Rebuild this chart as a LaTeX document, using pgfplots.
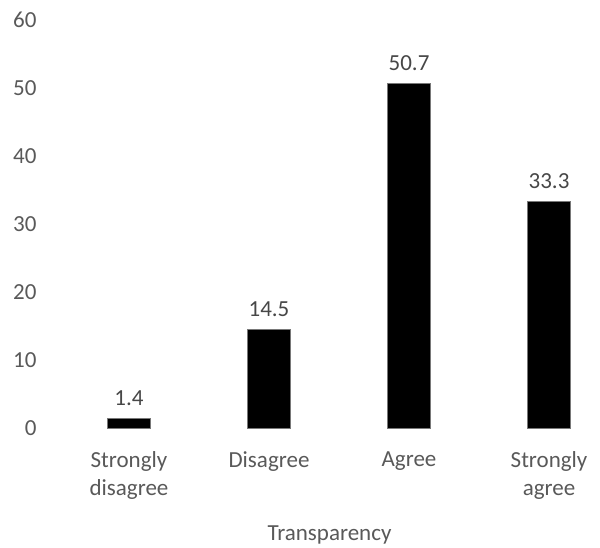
\documentclass[border=0pt]{standalone}
\usepackage{fontspec}
\setmainfont{Carlito}
\usepackage{pgfplots}
\pgfplotsset{compat=1.18}
\definecolor{txtgray}{RGB}{89,89,89}
\definecolor{edgegray}{RGB}{120,120,120}

\begin{document}
\begin{tikzpicture}
\begin{axis}[
  name=ax,
  scale only axis,
  width=541pt, height=408pt,
  ybar, bar width=43pt,
  xmin=-0.5, xmax=3.364,
  ymin=0, ymax=60,
  ytick={0,10,...,60},
  xtick={0,1,2,3},
  xticklabels={{Strongly\\disagree},Disagree,Agree,{Strongly\\agree}},
  xticklabel style={align=center, font=\fontsize{23}{28}\selectfont, text=txtgray, yshift=-20pt},
  yticklabel style={font=\fontsize{23}{28}\selectfont, text=txtgray, xshift=-19pt},
  /pgf/number format/assume math mode=true,
  major tick length=0pt,
  axis line style={draw=none},
  xlabel={Transparency},
  xlabel style={font=\fontsize{23}{28}\selectfont, text=txtgray, yshift=-19pt},
  nodes near coords,
  nodes near coords style={font=\fontsize{23}{28}\selectfont, text=txtgray!80!black, yshift=9pt},
  /pgf/number format/fixed, /pgf/number format/precision=1,
  clip=false,
]
\addplot[fill=black, draw=edgegray, line width=0.8pt] coordinates {(0,1.4) (1,14.5) (2,50.7) (3,33.3)};
\end{axis}
\pgfresetboundingbox
\path[use as bounding box] (ax.south west) ++(-59pt,-120pt) rectangle ++(600pt,548pt);
\end{tikzpicture}
\end{document}
